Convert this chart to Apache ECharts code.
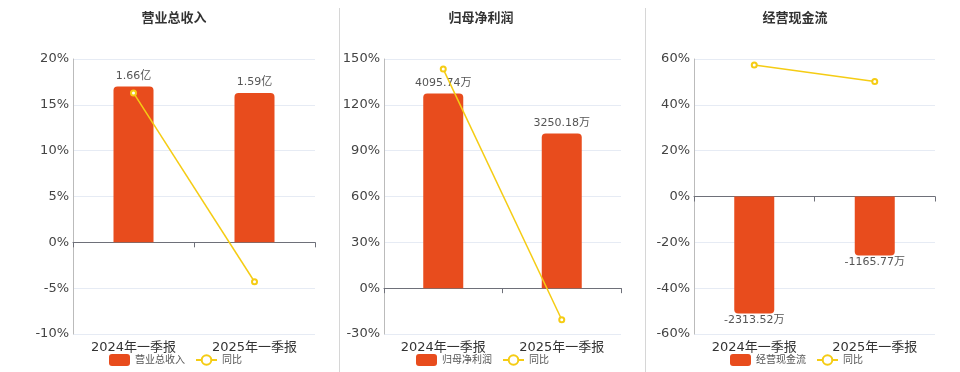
<!DOCTYPE html>
<html>
<head>
<meta charset="utf-8">
<script src="https://cdn.jsdelivr.net/npm/echarts@6/dist/echarts.min.js"></script>
<style>
html,body{margin:0;padding:0;background:#fff;}
#c{width:960px;height:372px;}
</style>
</head>
<body>
<div id="c"></div>
<script>
// ---- data ----
const categories = ['2024年一季报', '2025年一季报'];
const titles = ['营业总收入', '归母净利润', '经营现金流'];
const revenue = [1.66, 1.59];          // 亿
const revenueYoY = [16.3, -4.3];       // %
const profit = [4095.74, 3250.18];     // 万
const profitYoY = [143.4, -20.64];     // %
const cashflow = [-2313.52, -1165.77]; // 万
const cashflowYoY = [57.4, 50.2];      // %
const units = ['亿', '万', '万'];
const pctMin = [-10, -30, -60];
const pctMax = [20, 150, 60];
const pctInterval = [5, 30, 20];

const barValues = [revenue, profit, cashflow];
const lineValues = [revenueYoY, profitYoY, cashflowYoY];

// ---- layout ----
const FONT = "'DejaVu Sans', 'Noto Sans CJK SC', sans-serif";
const grids = [
  {left: 73, top: 59, width: 242, height: 275},
  {left: 384, top: 59, width: 237, height: 275},
  {left: 694, top: 59, width: 241, height: 275}
];
const centers = [174, 481, 795];
const legendLeft = [109, 416, 730];

const BAR = '#E84C1D';
const LINE = '#F5CC14';

const option = {
  animation: false,
  textStyle: {fontFamily: FONT},
  title: titles.map((t, i) => ({
    text: t, left: centers[i], top: 12, textAlign: 'center', padding: 0,
    textStyle: {fontSize: 13, fontWeight: 'bold', color: '#333', fontFamily: FONT}
  })),
  legend: titles.map((t, i) => ({
    data: [t, '同比' + i],
    left: legendLeft[i], top: 354, padding: 0,
    itemWidth: 21, itemHeight: 12, itemGap: 10,
    textStyle: {fontSize: 10, color: '#555', fontFamily: FONT},
    formatter: n => n.indexOf('同比') === 0 ? '同比' : n
  })),
  grid: grids,
  xAxis: grids.map((g, i) => ({
    type: 'category', gridIndex: i, data: categories,
    axisLine: {onZero: true, lineStyle: {color: '#6E7079'}},
    axisTick: {show: true, length: 5, lineStyle: {color: '#6E7079'}},
    axisLabel: {interval: 0, fontSize: 13, color: '#333', margin: 7, fontFamily: FONT},
    position: 'bottom'
  })),
  yAxis: [],
  series: [],
  graphic: [
    {type: 'line', shape: {x1: 339.5, y1: 8, x2: 339.5, y2: 372}, style: {stroke: '#d6d6d6', lineWidth: 1}},
    {type: 'line', shape: {x1: 645.5, y1: 8, x2: 645.5, y2: 372}, style: {stroke: '#d6d6d6', lineWidth: 1}}
  ]
};

for (let i = 0; i < 3; i++) {
  option.yAxis.push({
    type: 'value', gridIndex: i, min: pctMin[i], max: pctMax[i], interval: pctInterval[i],
    axisLine: {show: true, lineStyle: {color: '#bbb'}},
    axisTick: {show: false},
    axisLabel: {formatter: '{value}%', fontSize: 13, color: '#444', margin: 4, fontFamily: FONT},
    splitLine: {lineStyle: {color: '#e6ebf4'}}
  });
  const vals = barValues[i];
  const maxAbs = Math.max(...vals.map(Math.abs));
  const span = maxAbs / 0.85;
  const ratio = pctMin[i] / pctMax[i];
  let bmin, bmax;
  if (pctMax[i] >= Math.abs(pctMin[i])) { bmax = span; bmin = span * ratio; }
  else { bmin = -span; bmax = -span / ratio; }
  option.yAxis.push({
    type: 'value', gridIndex: i, min: bmin, max: bmax, show: false,
    splitLine: {show: false}
  });
}
for (let i = 0; i < 3; i++) {
  const neg = barValues[i][0] < 0;
  option.series.push({
    name: titles[i], type: 'bar', xAxisIndex: i, yAxisIndex: 2 * i + 1,
    data: barValues[i], barWidth: 40,
    itemStyle: {color: BAR, borderRadius: neg ? [0, 0, 4, 4] : [4, 4, 0, 0]},
    label: {show: true, position: neg ? 'bottom' : 'top', distance: neg ? 1 : 5,
      fontSize: 11, color: '#555', fontFamily: FONT,
      formatter: p => p.value + units[i]}
  });
  option.series.push({
    name: '同比' + i, type: 'line', xAxisIndex: i, yAxisIndex: 2 * i,
    data: lineValues[i], symbol: 'emptyCircle', symbolSize: 5,
    lineStyle: {color: LINE, width: 1.5},
    itemStyle: {color: LINE, borderWidth: 1.5},
    z: 3
  });
}

const chart = echarts.init(document.getElementById('c'), null, {renderer: 'canvas'});
chart.setOption(option);
</script>
</body>
</html>
